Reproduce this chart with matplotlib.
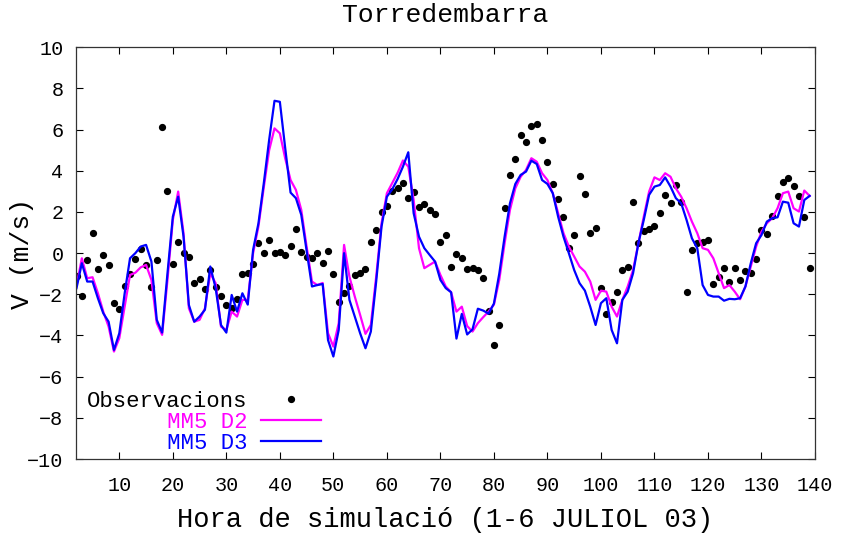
import matplotlib
matplotlib.use("Agg")
import matplotlib.pyplot as plt

# hores de simulacio (1-6 juliol 2003)
hores = list(range(2, 140))

observacions = [
    -1.1, -2.1, -0.33, 0.97, -0.77, -0.09, -0.57, -2.43, -2.7, -1.6,
    -1.0, -0.3, 0.2, -0.56, -1.66, -0.35, 6.15, 3.04, -0.51, 0.54,
    0.0, -0.17, -1.46, -1.27, -1.74, -0.8, -1.66, -2.1, -2.5, -2.65,
    -2.24, -1.03, -0.98, -0.52, 0.5, 0.0, 0.63, 0.0, 0.07, -0.07,
    0.33, 1.19, 0.06, -0.17, -0.23, 0.0, -0.5, 0.1, -1.0, -2.35,
    -1.96, -1.6, -1.04, -0.96, -0.75, 0.53, 1.13, 2.02, 2.27, 3.0,
    3.18, 3.42, 2.66, 2.97, 2.26, 2.4, 2.1, 1.9, 0.54, 0.87,
    -0.69, -0.02, -0.25, -0.77, -0.7, -0.82, -1.19, -2.79, -4.46, -3.49,
    2.18, 3.78, 4.57, 5.76, 5.42, 6.18, 6.27, 5.48, 4.41, 3.35,
    2.63, 1.77, 0.25, 0.9, 3.73, 2.89, 0.96, 1.24, -1.67, -2.94,
    -2.37, -1.9, -0.82, -0.65, 2.49, 0.48, 1.06, 1.18, 1.34, 1.94,
    2.8, 2.44, 3.33, 2.47, -1.87, 0.17, 0.51, 0.53, 0.64, -1.51,
    -1.16, -0.7, -1.38, -0.7, -1.3, -0.85, -0.95, -0.27, 1.11, 0.95,
    1.79, 2.78, 3.47, 3.65, 3.26, 2.78, 1.74, -0.73,
]

mm5_d2 = [
    -1.6, -0.25, -1.22, -1.17, -1.95, -2.84, -3.57, -4.78, -4.13, -2.6,
    -1.06, -0.95, -0.69, -0.57, -1.3, -3.4, -3.97, -1.3, 1.61, 2.99,
    0.97, -2.68, -3.33, -3.24, -2.68, -0.98, -1.46, -3.57, -3.73, -2.84,
    -3.08, -2.27, -2.27, 0.0, 1.3, 3.2, 5.0, 6.06, 5.82, 4.6,
    3.55, 3.07, 2.1, 0.32, -1.38, -1.55, -1.45, -3.89, -4.54, -3.4,
    0.4, -1.14, -2.11, -3.0, -3.92, -3.49, -1.14, 1.45, 2.91, 3.4,
    3.9, 4.5, 4.2, 2.58, 0.24, -0.73, -0.57, -0.41, -1.06, -1.62,
    -1.9, -2.84, -2.6, -3.54, -3.81, -3.4, -3.11, -2.84, -2.5, -1.3,
    0.48, 2.1, 3.15, 3.71, 4.04, 4.61, 4.44, 3.88, 3.55, 2.91,
    1.94, 0.97, 0.32, -0.17, -0.65, -0.9, -1.38, -2.27, -1.82, -1.87,
    -2.6, -3.08, -2.27, -1.62, -0.82, 0.48, 1.77, 2.99, 3.68, 3.55,
    3.88, 3.71, 3.15, 2.74, 2.18, 1.53, 0.97, 0.24, 0.16, -0.25,
    -0.98, -1.7, -1.55, -1.87, -2.24, -1.62, -0.65, 0.32, 1.04, 1.45,
    1.7, 2.18, 2.91, 2.99, 2.18, 2.02, 3.04, 2.78,
]

mm5_d3 = [
    -1.7, -0.49, -1.38, -1.38, -2.19, -2.92, -3.33, -4.7, -3.89, -1.95,
    -0.25, 0.0, 0.32, 0.4, -0.41, -3.24, -3.86, -0.98, 1.77, 2.74,
    0.8, -2.52, -3.33, -3.08, -2.75, -0.65, -1.7, -3.49, -3.86, -2.03,
    -2.84, -1.95, -2.5, 0.16, 1.45, 3.4, 5.5, 7.4, 7.35, 5.1,
    2.94, 2.67, 1.86, 0.12, -1.62, -1.55, -1.5, -4.22, -5.02, -3.73,
    0.0, -2.27, -3.08, -3.89, -4.62, -3.81, -1.38, 1.29, 2.74, 3.1,
    3.6, 4.2, 4.9, 1.94, 0.8, 0.24, -0.09, -0.41, -1.3, -1.7,
    -1.9, -4.15, -2.95, -3.95, -3.7, -2.7, -2.79, -2.94, -2.45, -1.0,
    0.8, 2.42, 3.36, 3.8, 3.96, 4.49, 4.33, 3.55, 3.36, 2.91,
    1.77, 0.8, 0.0, -0.82, -1.46, -1.82, -2.6, -3.49, -2.43, -2.19,
    -3.73, -4.38, -2.27, -1.87, -0.98, 0.48, 1.61, 2.83, 3.23, 3.31,
    3.68, 3.23, 2.67, 2.42, 1.61, 0.72, 0.24, -1.55, -2.03, -2.11,
    -2.11, -2.31, -2.22, -2.24, -2.19, -1.62, -0.49, 0.48, 0.88, 1.53,
    1.7, 1.74, 2.5, 2.45, 1.45, 1.29, 2.58, 2.78,
]

xticks = list(range(10, 141, 10))
yticks = list(range(-10, 11, 2))

mono = 'Liberation Mono'

fig = plt.figure(figsize=(8.45, 5.35), dpi=100)
ax = fig.add_axes([0.0899, 0.142, 0.8746, 0.7697])

ax.plot(hores, observacions, 'o', color='black', markersize=4.2,
        label='Observacions')
ax.plot(hores, mm5_d2, color='#ff00ff', linewidth=1.6, label='      MM5 D2')
ax.plot(hores, mm5_d3, color='#0000ff', linewidth=1.6, label='      MM5 D3')

ax.set_xlim(1.9, 140)
ax.set_ylim(-10, 10)
ax.set_xticks(xticks)
ax.set_yticks(yticks)
ax.tick_params(direction='in', top=True, right=True, length=5, width=0.8,
               labelsize=14.5)
ax.tick_params(axis='x', pad=12)
ax.tick_params(axis='y', pad=9)
for lab in ax.get_xticklabels() + ax.get_yticklabels():
    lab.set_family(mono)
for sp in ax.spines.values():
    sp.set_linewidth(0.9)
    sp.set_color('#333333')

ax.set_title('Torredembarra', fontsize=19, family=mono, pad=18)
ax.set_xlabel('Hora de simulació (1-6 JULIOL 03)', fontsize=19.5, family=mono,
              labelpad=9)
ax.set_ylabel('V (m/s)', fontsize=19, family=mono, labelpad=-5)

leg = ax.legend(loc='lower left', bbox_to_anchor=(0.0, -0.015), frameon=False,
                markerfirst=False, prop={'family': mono, 'size': 16},
                handlelength=2.7, handletextpad=0.6, labelspacing=0.0,
                borderaxespad=0.2, numpoints=1, borderpad=0.3)
for txt, col in zip(leg.get_texts(), ['black', '#ff00ff', '#0000ff']):
    txt.set_color(col)

plt.savefig('out.png', dpi=100)
